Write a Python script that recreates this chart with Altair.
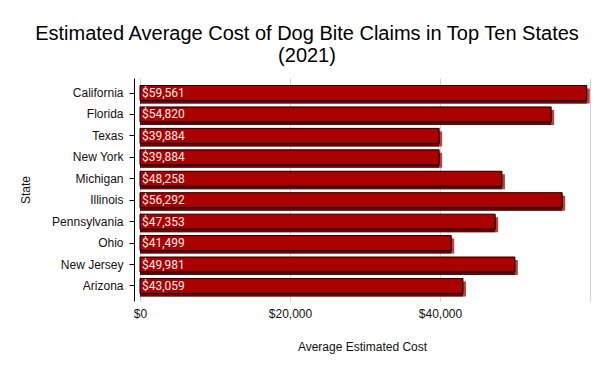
import altair as alt
import pandas as pd

states = ["California", "Florida", "Texas", "New York", "Michigan", "Illinois",
          "Pennsylvania", "Ohio", "New Jersey", "Arizona"]
costs = [59561, 54820, 39884, 39884, 48258, 56292, 47353, 41499, 49981, 43059]

df = pd.DataFrame({"State": states, "Cost": costs})
df["Label"] = ["$" + format(v, ",") for v in costs]

FONT = "Liberation Sans"

x_scale = alt.Scale(domain=[-800, 60000], nice=False, zero=False)
y_scale = alt.Scale(paddingInner=0.3, paddingOuter=0.35)

x_enc = alt.X("Cost:Q", scale=x_scale,
              axis=alt.Axis(title="Average Estimated Cost", values=[0, 20000, 40000, 60000],
                            labelExpr="datum.value >= 60000 ? '' : '$' + format(datum.value, ',')",
                            grid=True, gridColor="#d3d3d3", ticks=False, domain=False,
                            labelFontSize=12, labelFont=FONT, labelPadding=7,
                            titleFont=FONT, titleFontSize=12, titleFontWeight="normal",
                            titlePadding=22, labelColor="#111", titleColor="#111"))
y_enc = alt.Y("State:N", sort=None, scale=y_scale,
              axis=alt.Axis(title="State", labelFontSize=12, labelFont=FONT,
                            domainColor="black", tickColor="black", tickSize=5,
                            labelPadding=6, titleFont=FONT, titleFontSize=12,
                            titleFontWeight="normal", titlePadding=19,
                            labelColor="#111", titleColor="#111"))

base = alt.Chart(df)

shadow_light = base.mark_bar(color="#c43c3c", xOffset=3, yOffset=3).encode(
    x=alt.X("Cost:Q", scale=x_scale), x2=alt.datum(0), y=alt.Y("State:N", sort=None, scale=y_scale))
shadow_dark = base.mark_bar(color="#720000", yOffset=3).encode(
    x=alt.X("Cost:Q", scale=x_scale), x2=alt.datum(0), y=alt.Y("State:N", sort=None, scale=y_scale))
main = base.mark_bar(color="#aa0000", stroke="black", strokeWidth=1).encode(
    x=x_enc, x2=alt.datum(0), y=y_enc)
text = base.mark_text(align="left", baseline="middle", dx=2, font="Roboto",
                      fontSize=12, color="#f5eeee").encode(
    x=alt.datum(0), y=alt.Y("State:N", sort=None, scale=y_scale), text="Label:N")

chart = alt.layer(shadow_light, shadow_dark, main, text).properties(
    width=456, height=223,
    padding={"left": 11, "top": 16, "right": 5, "bottom": 5},
    title=alt.TitleParams(
        text=["Estimated Average Cost of Dog Bite Claims in Top Ten States", "(2021)"],
        font=FONT, fontSize=20, fontWeight="normal", color="black", anchor="middle",
        lineHeight=22, offset=12, dx=-55),
    background="white",
).configure_view(stroke=None)

chart.save("out.html", embed_options={"renderer": "svg", "actions": False})
